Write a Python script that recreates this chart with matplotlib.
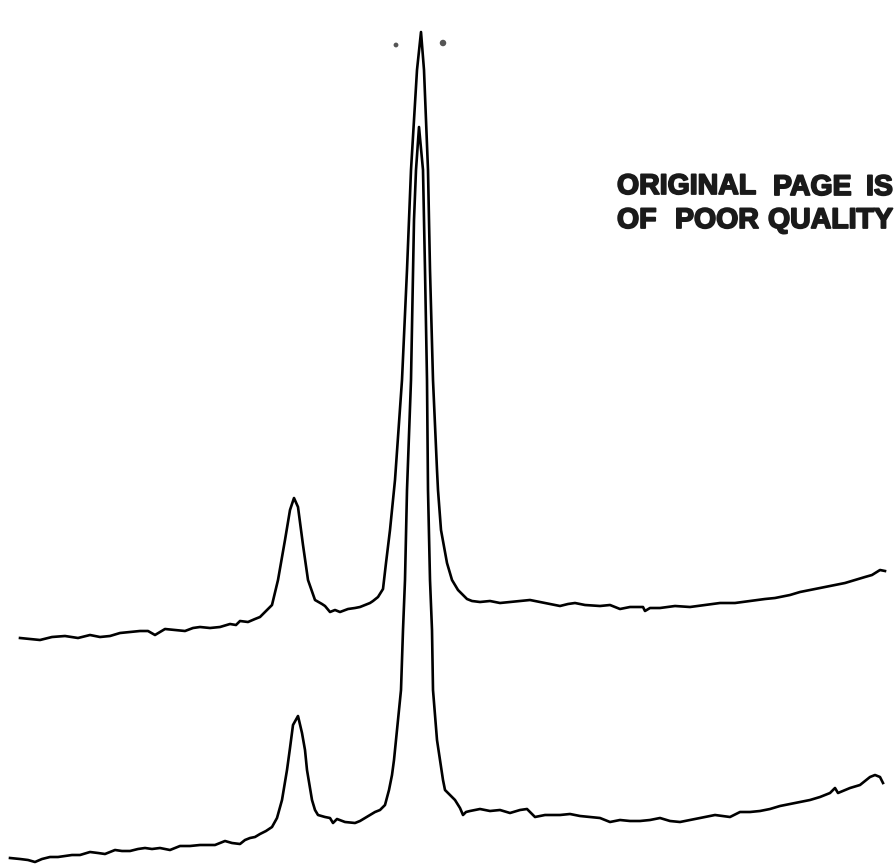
import matplotlib
matplotlib.use("Agg")
import matplotlib.pyplot as plt
import matplotlib.patheffects as pe

# Upper spectrum trace (x position, pen deflection; deflection axis points down)
upper_x = [20, 30, 40, 52, 65, 78, 90, 100, 110, 120, 130, 140, 148, 155, 165, 175, 185, 193, 200, 210,
           220, 230, 236, 240, 248, 255, 260, 265, 272, 278, 285, 290, 294, 298, 303, 308, 315, 322, 325, 330,
           335, 340, 348, 355, 360, 365, 370, 373, 378, 383, 386, 390, 394, 395, 402, 407, 409, 411, 414, 417,
           421, 424, 426, 428, 429, 430, 433, 437, 438, 441, 447, 452, 458, 462, 467, 472, 480, 490, 500, 510,
           520, 530, 540, 550, 560, 568, 575, 585, 600, 610, 620, 630, 643, 645, 650, 660, 675, 690, 705, 720,
           735, 750, 765, 775, 790, 800, 810, 820, 830, 845, 855, 865, 872, 880, 885]
upper_y = [638, 639, 640, 637, 636, 638, 635, 637, 636, 633, 632, 631, 631, 635, 629, 630, 631, 628, 627, 628,
           627, 624, 625, 621, 622, 619, 617, 612, 605, 580, 540, 510, 498, 507, 545, 580, 600, 604, 606, 612,
           610, 612, 609, 608, 607, 605, 603, 601, 597, 589, 563, 530, 490, 480, 380, 270, 220, 170, 120, 70,
           32, 70, 120, 170, 220, 270, 380, 470, 490, 530, 563, 580, 590, 594, 599, 601, 602, 601, 603, 602,
           601, 600, 602, 604, 606, 604, 603, 605, 606, 605, 609, 607, 607, 611, 608, 608, 606, 607, 605, 603,
           603, 601, 599, 598, 595, 592, 590, 588, 586, 583, 580, 577, 575, 570, 571]

# Lower spectrum trace
lower_x = [10, 20, 28, 35, 42, 50, 58, 65, 72, 80, 90, 98, 105, 115, 122, 130, 138, 145, 152, 160,
           170, 180, 190, 200, 208, 215, 220, 225, 232, 240, 245, 250, 255, 260, 266, 272, 277, 282, 287, 290,
           293, 298, 302, 305, 307, 312, 315, 318, 325, 330, 333, 337, 345, 355, 360, 365, 370, 375, 380, 385,
           389, 392, 394, 398, 401, 403, 405, 407, 411, 413, 414, 416, 419, 423, 424, 425, 427, 428, 430, 432,
           433, 437, 440, 443, 445, 450, 455, 460, 463, 466, 470, 480, 490, 500, 510, 520, 527, 535, 545, 560,
           570, 580, 590, 600, 610, 620, 630, 640, 650, 660, 670, 680, 690, 700, 715, 730, 740, 750, 760, 770,
           780, 790, 800, 810, 820, 830, 835, 838, 850, 860, 870, 875, 880, 883]
lower_y = [858, 859, 860, 862, 859, 857, 857, 856, 855, 855, 852, 853, 854, 850, 851, 851, 849, 848, 849, 848,
           850, 846, 846, 845, 845, 845, 843, 841, 843, 844, 840, 838, 837, 834, 831, 827, 818, 800, 770, 748,
           725, 716, 733, 750, 770, 800, 810, 815, 817, 818, 823, 819, 822, 823, 821, 818, 815, 812, 810, 805,
           790, 775, 760, 720, 690, 630, 580, 490, 380, 270, 220, 170, 127, 170, 220, 270, 380, 490, 580, 630,
           690, 740, 760, 780, 790, 795, 800, 808, 815, 812, 811, 809, 811, 810, 813, 810, 809, 817, 815, 815,
           814, 816, 817, 818, 822, 820, 821, 821, 820, 818, 821, 822, 820, 818, 815, 817, 812, 812, 811, 809,
           806, 804, 802, 800, 797, 793, 788, 793, 788, 785, 777, 775, 777, 783]

# Stamp text words and their placement
stamp_words = ["ORIGINAL", "PAGE", "IS", "OF", "POOR", "QUALITY"]
stamp_x = [617, 773, 866, 617, 675, 768]
stamp_y = [194, 195, 195, 228, 228, 228]

# Scan specks near the top
specks_x = [396, 443]
specks_y = [45, 43]
specks_s = [12, 22]

fig = plt.figure(figsize=(8.94, 8.66), dpi=100)
ax = fig.add_axes([0, 0, 1, 1])
ax.set_xlim(0, 894)
ax.set_ylim(866, 0)
ax.axis("off")

ax.plot(upper_x, upper_y, color="black", lw=1.9, solid_joinstyle="round")
ax.plot(lower_x, lower_y, color="black", lw=1.9, solid_joinstyle="round")
ax.scatter(specks_x, specks_y, s=specks_s, color="#555555", edgecolors="none")

for w, x, y in zip(stamp_words, stamp_x, stamp_y):
    ax.text(x, y, w, fontsize=20.5, fontweight="bold", family="Liberation Sans",
            ha="left", va="baseline", color="#1a1a1a",
            path_effects=[pe.withStroke(linewidth=1.3, foreground="#1a1a1a")])

fig.savefig("out.png", dpi=100)
